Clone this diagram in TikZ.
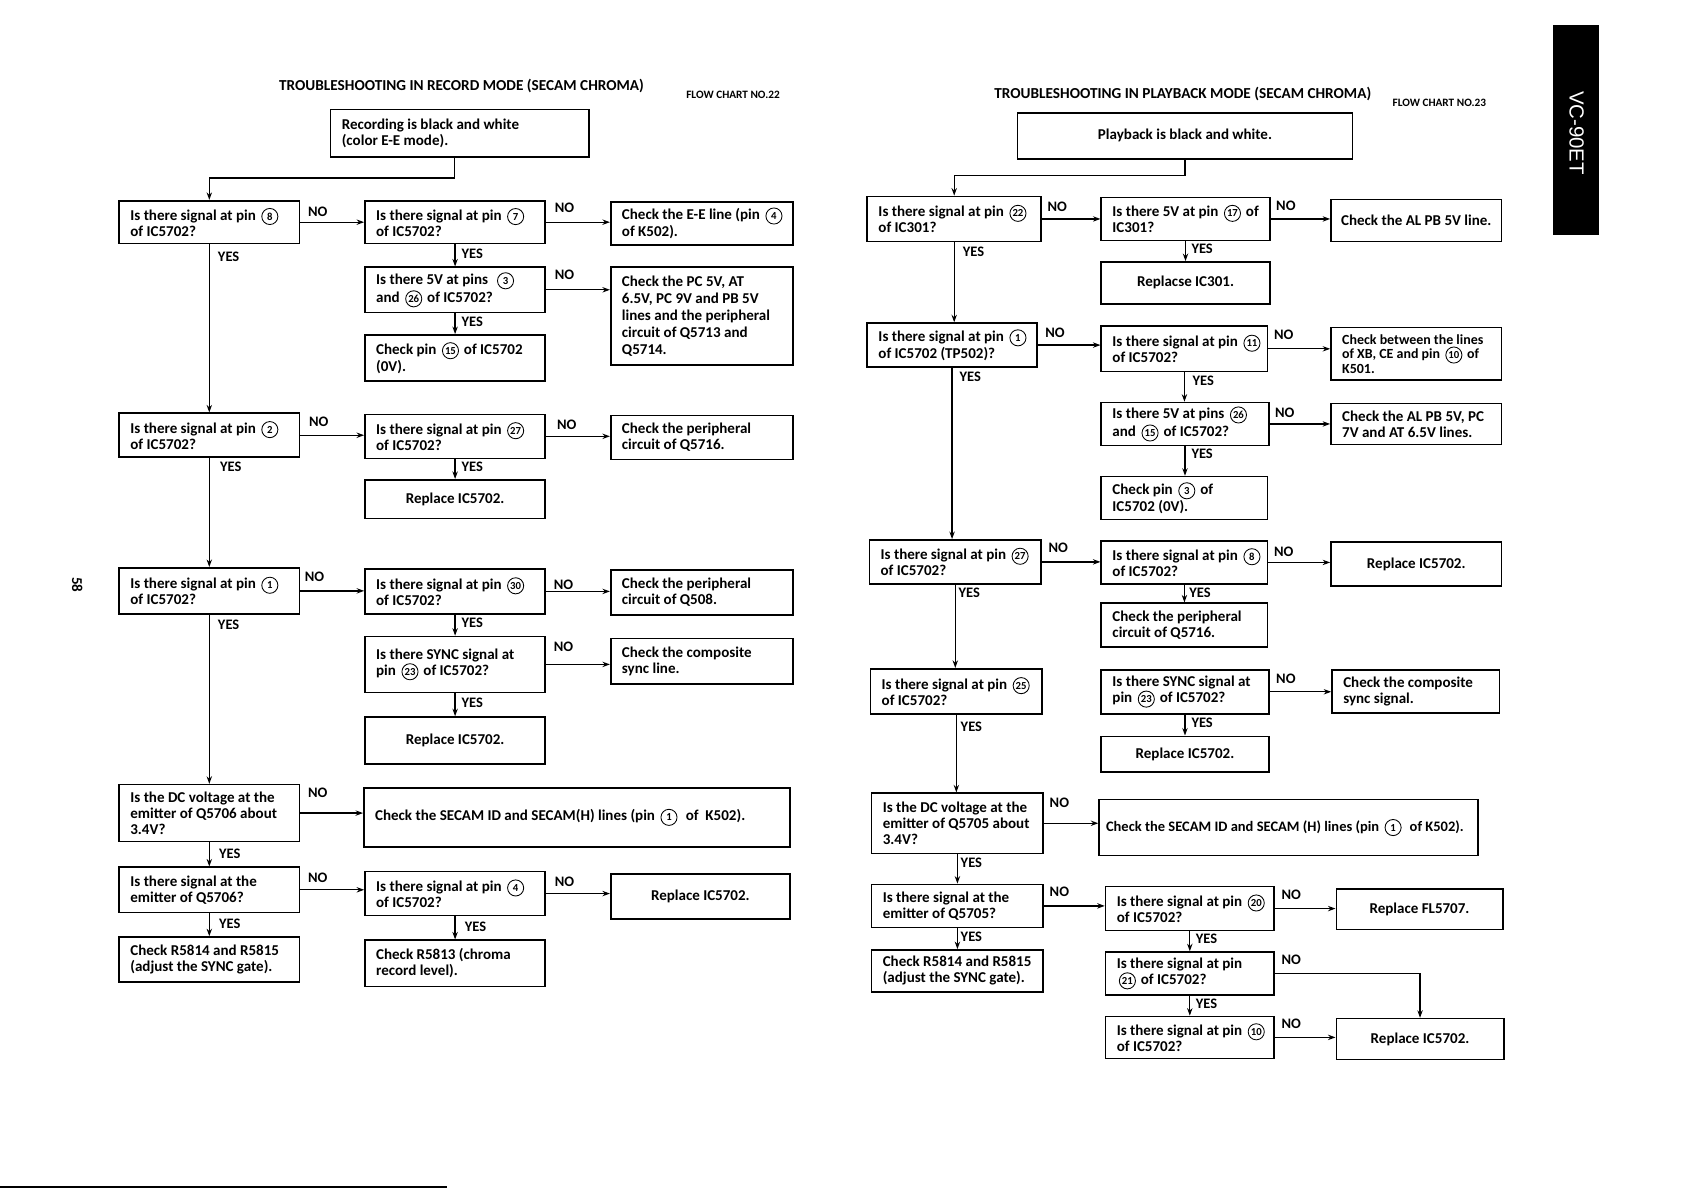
\documentclass[tikz,border=0pt]{standalone}
\usepackage{fontspec}
\setmainfont{Carlito}
\newfontfamily\tabfont{Liberation Sans}
\usetikzlibrary{arrows.meta}
\tikzset{
 fbx/.style={draw,line width=1.5pt,inner sep=0pt},
 ftx/.style={align=left,inner sep=0pt,font=\fontsize{14}{15}\selectfont\bfseries},
 lbl/.style={font=\fontsize{13.5}{14}\selectfont\bfseries,inner sep=0pt},
 ttl/.style={font=\fontsize{14.2}{16}\selectfont\bfseries,inner sep=0pt},
 fcn/.style={font=\fontsize{10.5}{12}\selectfont\bfseries,inner sep=0pt},
 con/.style={line width=1.2pt},
 arr/.style={con,-{Stealth[length=7pt,width=5pt]}},
}
\newcommand\cn[1]{\hspace{2pt}\tikz[baseline=(cnn.base)]\node[draw,circle,line width=0.8pt,inner sep=0pt,minimum size=15pt,font=\fontsize{10}{10}\selectfont\bfseries] (cnn) {#1};\hspace{1.5pt}}
\newcommand\mkgeom[5]{%
 \pgfmathsetmacro\mbw{#4-#2}%
 \pgfmathsetmacro\mbh{#5-#3}%
 \pgfmathsetmacro\mbcx{(#2+#4)/2}%
 \pgfmathsetmacro\mbcy{(#3+#5)/2}%
 \node[fbx,minimum width=\mbw pt,minimum height=\mbh pt] (#1) at (\mbcx,\mbcy) {};}
% left-aligned text box
\newcommand\mkbox[7][]{\mkgeom{#2}{#3}{#4}{#5}{#6}%
 \node[ftx,anchor=west,#1] (#2t) at ([xshift=11pt]#2.west) {#7};}
% centred text box
\newcommand\mkcbox[7][]{\mkgeom{#2}{#3}{#4}{#5}{#6}%
 \node[ftx,align=center,#1] (#2t) at (#2.center) {#7};}
\begin{document}
\begin{tikzpicture}[x=1pt,y=-1pt]
\useasboundingbox[fill=white] (0,0) rectangle (1568,1110);
% ---------- titles ----------
\node[ttl] (t1) at (430,80) {TROUBLESHOOTING IN RECORD MODE (SECAM CHROMA)};
\node[fcn] (f1) at (683,88) {FLOW CHART NO.22};
\node[ttl] (t2) at (1102,88) {TROUBLESHOOTING IN PLAYBACK MODE (SECAM CHROMA)};
\node[fcn] (f2) at (1341,96) {FLOW CHART NO.23};
% ---------- left chart ----------
\mkbox{S1}{308}{102}{549}{146}{Recording is black and white\\(color E-E mode).}
\mkbox{A1}{111}{187}{279}{227}{Is there signal at pin \cn{8}\\of IC5702?}
\mkbox{A2}{340}{187}{508}{227}{Is there signal at pin \cn{7}\\of IC5702?}
\mkbox{A3}{569}{188}{739}{228}{Check the E-E line (pin \cn{4}\\of K502).}
\mkbox{A4}{340}{249}{508}{291}{Is there 5V at pins \ \cn{3}\\and \cn{26} of IC5702?}
\mkbox[font=\fontsize{14}{16}\selectfont\bfseries]{A5}{569}{249}{739}{340}{Check the PC 5V, AT\\6.5V, PC 9V and PB 5V\\lines and the peripheral\\circuit of Q5713 and\\Q5714.}
\mkbox{A6}{340}{312}{508}{355}{Check pin \cn{15} of IC5702\\(0V).}
\mkbox{B1}{111}{385}{279}{426}{Is there signal at pin \cn{2}\\of IC5702?}
\mkbox{B2}{340}{386}{508}{427}{Is there signal at pin \cn{27}\\of IC5702?}
\mkbox{B3}{569}{387}{739}{428}{Check the peripheral\\circuit of Q5716.}
\mkcbox{B4}{340}{447}{508}{483}{Replace IC5702.}
\mkbox{C1}{111}{529}{279}{572}{Is there signal at pin \cn{1}\\of IC5702?}
\mkbox{C2}{340}{530}{508}{572}{Is there signal at pin \cn{30}\\of IC5702?}
\mkbox{C3}{569}{531}{739}{573}{Check the peripheral\\circuit of Q508.}
\mkbox{C4}{340}{593}{508}{645}{Is there SYNC signal at\\pin \cn{23} of IC5702?}
\mkbox{C5}{569}{595}{739}{637}{Check the composite\\sync line.}
\mkcbox{C6}{340}{668}{508}{712}{Replace IC5702.}
\mkbox{D1}{111}{731}{279}{784}{Is the DC voltage at the\\emitter of Q5706 about\\3.4V?}
\mkbox{D2}{339}{734}{736}{789}{Check the SECAM ID and SECAM(H) lines (pin \cn{1} \ of \ K502).}
\mkbox{D3}{111}{808}{279}{850}{Is there signal at the\\emitter of Q5706?}
\mkbox{D4}{340}{812}{508}{853}{Is there signal at pin \cn{4}\\of IC5702?}
\mkcbox{D5}{569}{814}{736}{856}{Replace IC5702.}
\mkbox{D6}{111}{873}{279}{915}{Check R5814 and R5815\\(adjust the SYNC gate).}
\mkbox{D7}{340}{876}{508}{919}{Check R5813 (chroma\\record level).}
% ---------- right chart ----------
\mkcbox{S2}{948}{105}{1260}{148}{Playback is black and white.}
\mkbox{E1}{808}{183}{970}{225}{Is there signal at pin \cn{22}\\of IC301?}
\mkbox{E2}{1026}{184}{1183}{224}{Is there 5V at pin \cn{17} of\\IC301?}
\mkcbox{E3}{1240}{186}{1399}{225}{Check the AL PB 5V line.}
\mkcbox{E4}{1026}{244}{1183}{283}{Replacse IC301.}
\mkbox{F1}{808}{301}{966}{342}{Is there signal at pin \cn{1}\\of IC5702 (TP502)?}
\mkbox{F2}{1026}{304}{1181}{346}{Is there signal at pin \cn{11}\\of IC5702?}
\mkbox[font=\fontsize{13}{13.5}\selectfont\bfseries]{F3}{1240}{305}{1399}{354}{Check between the lines\\of XB, CE and pin \cn{10} of\\K501.}
\mkbox{F4}{1026}{375}{1182}{415}{Is there 5V at pins \cn{26}\\and \cn{15} of IC5702?}
\mkbox{F5}{1240}{376}{1399}{414}{Check the AL PB 5V, PC\\7V and AT 6.5V lines.}
\mkbox{F6}{1026}{444}{1181}{484}{Check pin \cn{3} of\\IC5702 (0V).}
\mkbox{G1}{810}{503}{970}{544}{Is there signal at pin \cn{27}\\of IC5702?}
\mkbox{G2}{1026}{504}{1181}{544}{Is there signal at pin \cn{8}\\of IC5702?}
\mkcbox{G3}{1240}{505}{1399}{546}{Replace IC5702.}
\mkbox{G4}{1026}{562}{1181}{603}{Check the peripheral\\circuit of Q5716.}
\mkbox{H1}{811}{623}{971}{665}{Is there signal at pin \cn{25}\\of IC5702?}
\mkbox{H2}{1026}{624}{1182}{665}{Is there SYNC signal at\\pin \cn{23} of IC5702?}
\mkbox{H3}{1241}{624}{1397}{664}{Check the composite\\sync signal.}
\mkcbox{H4}{1026}{686}{1182}{719}{Replace IC5702.}
\mkbox{I1}{812}{739}{972}{795}{Is the DC voltage at the\\emitter of Q5705 about\\3.4V?}
\mkbox[xshift=-4pt,font=\fontsize{13.5}{15}\selectfont\bfseries]{I2}{1024}{745}{1377}{797}{Check the SECAM ID and SECAM (H) lines (pin \cn{1} \ of K502).}
\mkbox{I3}{812}{824}{972}{864}{Is there signal at the\\emitter of Q5705?}
\mkbox{I4}{1030}{826}{1187}{867}{Is there signal at pin \cn{20}\\of IC5702?}
\mkcbox{I5}{1245}{828}{1400}{866}{Replace FL5707.}
\mkbox{I6}{812}{885}{972}{924}{Check R5814 and R5815\\(adjust the SYNC gate).}
\mkbox{I7}{1030}{887}{1187}{927}{Is there signal at pin\\\cn{21} of IC5702?}
\mkbox{I8}{1030}{947}{1187}{986}{Is there signal at pin \cn{10}\\of IC5702?}
\mkcbox{I9}{1245}{949}{1401}{987}{Replace IC5702.}
% ---------- connectors left ----------
\draw[arr] ([xshift=-5pt]S1.south) -- ++(0,19) -| (A1.north);
\draw[arr] (A1.south) -- (A1.south |- B1.north);
\draw[arr] (B1.south) -- (B1.south |- C1.north);
\draw[arr] (C1.south) -- (C1.south |- D1.north);
\draw[arr] (D1.south) -- (D1.south |- D3.north);
\draw[arr] (D3.south) -- (D3.south |- D6.north);
\draw[arr] (A2.south) -- (A2.south |- A4.north);
\draw[arr] (A4.south) -- (A4.south |- A6.north);
\draw[arr] (B2.south) -- (B2.south |- B4.north);
\draw[arr] (C2.south) -- (C2.south |- C4.north);
\draw[arr] (C4.south) -- (C4.south |- C6.north);
\draw[arr] (D4.south) -- (D4.south |- D7.north);
\draw[arr] (A1.east) -- (A1.east -| A2.west);
\draw[arr] (A2.east) -- (A2.east -| A3.west);
\draw[arr] (A4.east) -- (A4.east -| A5.west);
\draw[arr] (B1.east) -- (B1.east -| B2.west);
\draw[arr] (B2.east) -- (B2.east -| B3.west);
\draw[arr] (C1.east) -- (C1.east -| C2.west);
\draw[arr] (C2.east) -- (C2.east -| C3.west);
\draw[arr] (C4.east) -- (C4.east -| C5.west);
\draw[arr] (D1.east) -- (D1.east -| D2.west);
\draw[arr] (D3.east) -- (D3.east -| D4.west);
\draw[arr] (D4.east) -- (D4.east -| D5.west);
% ---------- connectors right ----------
\draw[arr] (S2.south) -- ++(0,15) -| (E1.north);
\draw[arr] (E1.south) -- (E1.south |- F1.north);
\draw[arr] (F1.south) -- (F1.south |- G1.north);
\draw[arr] (G1.south) -- (G1.south |- H1.north);
\draw[arr] (H1.south) -- (H1.south |- I1.north);
\draw[arr] (I1.south) -- (I1.south |- I3.north);
\draw[arr] (I3.south) -- (I3.south |- I6.north);
\draw[arr] (E2.south) -- (E2.south |- E4.north);
\draw[arr] (F2.south) -- (F2.south |- F4.north);
\draw[arr] (F4.south) -- (F4.south |- F6.north);
\draw[arr] (G2.south) -- (G2.south |- G4.north);
\draw[arr] (H2.south) -- (H2.south |- H4.north);
\draw[arr] (I4.south) -- (I4.south |- I7.north);
\draw[arr] (I7.south) -- (I7.south |- I8.north);
\draw[arr] (E1.east) -- (E1.east -| E2.west);
\draw[arr] (E2.east) -- (E2.east -| E3.west);
\draw[arr] (F1.east) -- (F1.east -| F2.west);
\draw[arr] (F2.east) -- (F2.east -| F3.west);
\draw[arr] (F4.east) -- (F4.east -| F5.west);
\draw[arr] (G1.east) -- (G1.east -| G2.west);
\draw[arr] (G2.east) -- (G2.east -| G3.west);
\draw[arr] (H2.east) -- (H2.east -| H3.west);
\draw[arr] (I1.east) -- (I1.east -| I2.west);
\draw[arr] (I3.east) -- (I3.east -| I4.west);
\draw[arr] (I4.east) -- (I4.east -| I5.west);
\draw[arr] (I7.east) -| (I9.north);
\draw[arr] (I8.east) -- (I8.east -| I9.west);
% ---------- labels left ----------
\node[lbl] (n1) at (296,197) {NO};
\node[lbl] (n2) at (526,194) {NO};
\node[lbl] (n3) at (526,256) {NO};
\node[lbl] (n4) at (297,393) {NO};
\node[lbl] (n5) at (528,396) {NO};
\node[lbl] (n6) at (293,537) {NO};
\node[lbl] (n7) at (525,545) {NO};
\node[lbl] (n8) at (525,603) {NO};
\node[lbl] (n9) at (296,739) {NO};
\node[lbl] (n10) at (296,818) {NO};
\node[lbl] (n11) at (526,822) {NO};
\node[lbl] (y1) at (213,239) {YES};
\node[lbl] (y2) at (440,236) {YES};
\node[lbl] (y3) at (440,300) {YES};
\node[lbl] (y4) at (215,435) {YES};
\node[lbl] (y5) at (440,435) {YES};
\node[lbl] (y6) at (213,582) {YES};
\node[lbl] (y7) at (440,580) {YES};
\node[lbl] (y8) at (440,655) {YES};
\node[lbl] (y9) at (214,795) {YES};
\node[lbl] (y10) at (214,861) {YES};
\node[lbl] (y11) at (443,863) {YES};
% ---------- labels right ----------
\node[lbl] (m1) at (985,193) {NO};
\node[lbl] (m2) at (1198,192) {NO};
\node[lbl] (m3) at (983,310) {NO};
\node[lbl] (m4) at (1196,312) {NO};
\node[lbl] (m5) at (1197,385) {NO};
\node[lbl] (m6) at (986,510) {NO};
\node[lbl] (m7) at (1196,514) {NO};
\node[lbl] (m8) at (1198,632) {NO};
\node[lbl] (m9) at (987,748) {NO};
\node[lbl] (m10) at (987,831) {NO};
\node[lbl] (m11) at (1203,834) {NO};
\node[lbl] (m12) at (1203,894) {NO};
\node[lbl] (m13) at (1203,954) {NO};
\node[lbl] (z1) at (907,235) {YES};
\node[lbl] (z2) at (1120,232) {YES};
\node[lbl] (z3) at (904,351) {YES};
\node[lbl] (z4) at (1121,355) {YES};
\node[lbl] (z5) at (1120,423) {YES};
\node[lbl] (z6) at (903,552) {YES};
\node[lbl] (z7) at (1118,552) {YES};
\node[lbl] (z8) at (905,677) {YES};
\node[lbl] (z9) at (1120,673) {YES};
\node[lbl] (z10) at (905,804) {YES};
\node[lbl] (z11) at (905,873) {YES};
\node[lbl] (z12) at (1124,875) {YES};
\node[lbl] (z13) at (1124,935) {YES};
% ---------- side tab, page number, bottom rule ----------
\fill[black] (1447,23) rectangle (1490,219);
\node[text=white,font=\tabfont\fontsize{19}{20}\selectfont,rotate=-90,inner sep=0pt] (tab) at (1469,124) {VC-90ET};
\node[font=\fontsize{14}{15}\selectfont\bfseries,rotate=-90,inner sep=0pt] (pg) at (72,545) {58};
\draw[line width=1.5pt] (0,1106) -- (416,1106);
\end{tikzpicture}
\end{document}
